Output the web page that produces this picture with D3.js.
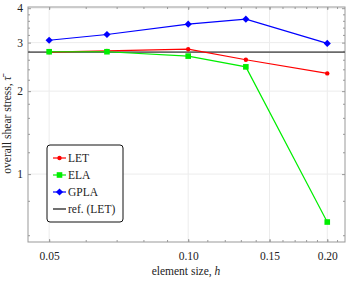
<!DOCTYPE html>
<html>
<head>
<meta charset="utf-8">
<script src="https://cdn.jsdelivr.net/npm/d3@7"></script>
<style>
  body { margin: 0; background: #fff; }
</style>
</head>
<body>
<svg width="348" height="282"></svg>
<script>
// data
let h = [0.05, 0.0667, 0.1, 0.1333, 0.2];
let LET = [2.77, 2.80, 2.84, 2.60, 2.32];
let ELA = [2.78, 2.78, 2.68, 2.45, 0.67];
let GPLA = [3.06, 3.21, 3.50, 3.65, 2.98];
let refLET = 2.77;
let xTicks = [0.05, 0.10, 0.15, 0.20];
let yTicks = [1, 2, 3, 4];
let xMinor = [0.05, 0.06, 0.07, 0.08, 0.09, 0.10, 0.11, 0.12, 0.13, 0.14, 0.15, 0.16, 0.17, 0.18, 0.19, 0.20, 0.21];
let yMinor = [0.6, 0.8, 1.2, 1.4, 1.6, 1.8, 2.2, 2.4, 2.6, 2.8, 3.2, 3.4, 3.6, 3.8];

let series = [
    { name: "LET", values: LET, color: "#ff0000", marker: "circle" },
    { name: "ELA", values: ELA, color: "#00ee00", marker: "square" },
    { name: "GPLA", values: GPLA, color: "#0000ff", marker: "diamond" }
];

let serif = "Liberation Serif";
let fs = "11.5px";

var svg = d3.select("svg");
var box = { left: 28, right: 345, top: 7, bottom: 242 };

let xScale = d3.scaleLog().domain([0.045, 0.2185]).range([box.left, box.right]);
let yScale = d3.scaleLog().domain([0.567, 4.04]).range([box.bottom, box.top]);

// grid
svg.append("g").selectAll("line").data(xTicks).enter().append("line")
    .attr("x1", d => xScale(d)).attr("x2", d => xScale(d))
    .attr("y1", box.top).attr("y2", box.bottom)
    .attr("stroke", "#ececec").attr("stroke-width", 1);
svg.append("g").selectAll("line").data(yTicks).enter().append("line")
    .attr("y1", d => yScale(d)).attr("y2", d => yScale(d))
    .attr("x1", box.left).attr("x2", box.right)
    .attr("stroke", "#ececec").attr("stroke-width", 1);

// axes: ticks point inwards on all four sides
function styleAxis(g) {
    g.attr("font-family", serif);
    g.select(".domain").remove();
    g.selectAll(".tick line").attr("stroke", "#999");
    g.selectAll(".tick text")
        .attr("font-family", serif)
        .attr("font-size", fs)
        .attr("fill", "#222");
}

svg.append("g").attr("transform", "translate(0," + box.bottom + ")")
    .call(d3.axisBottom(xScale).tickValues(xMinor).tickSize(-2).tickFormat(""))
    .call(styleAxis);
svg.append("g").attr("transform", "translate(0," + box.bottom + ")")
    .call(d3.axisBottom(xScale).tickValues(xTicks).tickSize(-3).tickPadding(10).tickFormat(d3.format(".2f")))
    .call(styleAxis);
svg.append("g").attr("transform", "translate(0," + box.top + ")")
    .call(d3.axisTop(xScale).tickValues(xMinor).tickSize(-2).tickFormat(""))
    .call(styleAxis);
svg.append("g").attr("transform", "translate(0," + box.top + ")")
    .call(d3.axisTop(xScale).tickValues(xTicks).tickSize(-3).tickFormat(""))
    .call(styleAxis);

svg.append("g").attr("transform", "translate(" + box.left + ",0)")
    .call(d3.axisLeft(yScale).tickValues(yMinor).tickSize(-2).tickFormat(""))
    .call(styleAxis);
svg.append("g").attr("transform", "translate(" + box.left + ",0)")
    .call(d3.axisLeft(yScale).tickValues(yTicks).tickSize(-3).tickPadding(5).tickFormat(d3.format("d")))
    .call(styleAxis);
svg.append("g").attr("transform", "translate(" + box.right + ",0)")
    .call(d3.axisRight(yScale).tickValues(yMinor).tickSize(-2).tickFormat(""))
    .call(styleAxis);
svg.append("g").attr("transform", "translate(" + box.right + ",0)")
    .call(d3.axisRight(yScale).tickValues(yTicks).tickSize(-3).tickFormat(""))
    .call(styleAxis);

// frame
svg.append("rect")
    .attr("x", box.left).attr("y", box.top)
    .attr("width", box.right - box.left).attr("height", box.bottom - box.top)
    .attr("fill", "none").attr("stroke", "#999").attr("stroke-width", 1);

// reference line
svg.append("line")
    .attr("x1", box.left).attr("x2", box.right)
    .attr("y1", yScale(refLET)).attr("y2", yScale(refLET))
    .attr("stroke", "#6a6a6a").attr("stroke-width", 1.8);

function drawMarker(g, type, color) {
    if (type == "circle") {
        g.append("circle").attr("r", 2.2).attr("fill", color);
    } else if (type == "square") {
        g.append("rect").attr("x", -2.8).attr("y", -2.8).attr("width", 5.6).attr("height", 5.6).attr("fill", color);
    } else {
        g.append("path").attr("d", "M0,-3.6L3.6,0L0,3.6L-3.6,0Z").attr("fill", color);
    }
}

let line = d3.line().x(d => xScale(d[0])).y(d => yScale(d[1]));

series.forEach(function (s) {
    let pts = h.map((v, i) => [v, s.values[i]]);
    svg.append("path").datum(pts)
        .attr("d", line)
        .attr("fill", "none")
        .attr("stroke", s.color)
        .attr("stroke-width", 1.2);
    svg.append("g").selectAll("g").data(pts).enter().append("g")
        .attr("transform", d => "translate(" + xScale(d[0]) + "," + yScale(d[1]) + ")")
        .each(function () { drawMarker(d3.select(this), s.marker, s.color); });
});

// legend
let legend = svg.append("g").attr("transform", "translate(47,145)");
legend.append("rect")
    .attr("width", 76).attr("height", 77).attr("rx", 3)
    .attr("fill", "#fff").attr("stroke", "#111").attr("stroke-width", 1);
let entries = series.map(s => ({ name: s.name, color: s.color, marker: s.marker }))
    .concat([{ name: "ref. (LET)", color: "#111", marker: null }]);
entries.forEach(function (e, i) {
    let row = legend.append("g").attr("transform", "translate(0," + (13 + i * 17) + ")");
    row.append("line").attr("x1", 6).attr("x2", 19).attr("y1", 0).attr("y2", 0)
        .attr("stroke", e.color).attr("stroke-width", 1.2);
    if (e.marker) {
        let m = row.append("g").attr("transform", "translate(12.5,0)");
        drawMarker(m, e.marker, e.color);
    }
    row.append("text").attr("x", 21).attr("y", 4)
        .attr("font-family", serif)
        .attr("font-size", fs)
        .attr("fill", "#222")
        .text(e.name);
});

// axis labels
let xl = svg.append("text")
    .attr("x", 186).attr("y", 275)
    .attr("text-anchor", "middle")
    .attr("font-family", serif)
    .attr("font-size", fs)
    .attr("fill", "#222")
    .text("element size, ");
xl.append("tspan").attr("font-style", "italic").text("h");

let yl = svg.append("text")
    .attr("transform", "translate(11,125) rotate(-90)")
    .attr("text-anchor", "middle")
    .attr("font-family", serif)
    .attr("font-size", fs)
    .attr("fill", "#222")
    .text("overall shear stress, ");
yl.append("tspan").attr("font-style", "italic").text("\u03c4\u0304");
</script>
</body>
</html>
